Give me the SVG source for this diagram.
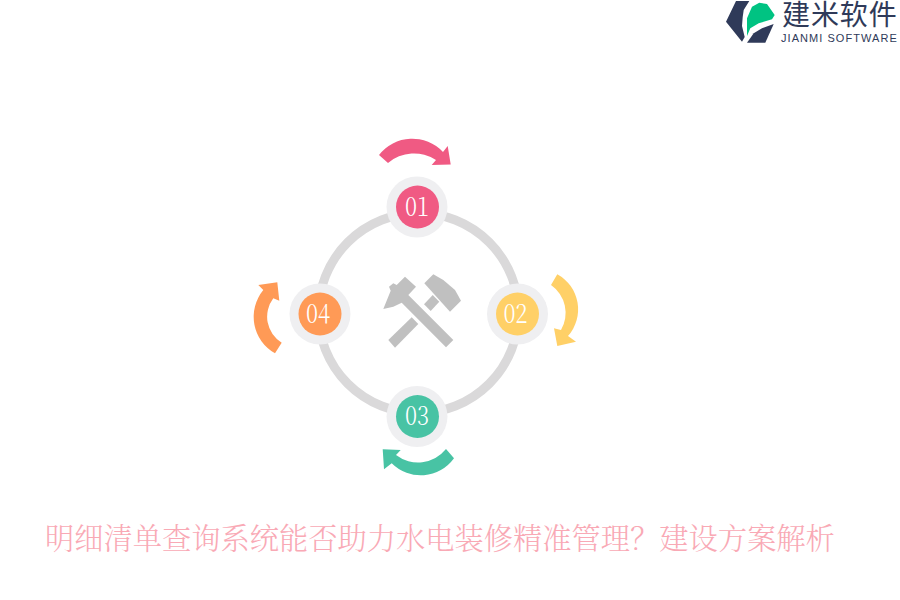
<svg xmlns="http://www.w3.org/2000/svg" width="900" height="600" viewBox="0 0 900 600">
<style>
.halo{fill:#efeff1}
.num{font-family:"AR PL UMing CN","Noto Serif CJK SC","Liberation Serif",serif;font-weight:300;font-size:27px;fill:#fff;text-anchor:middle}
.hammer{fill:#c0c0c0}
.dark{fill:#2f3a59}
</style>
<rect width="900" height="600" fill="#fff"/>
<g id="logo">
<path class="dark" d="M736 1H749.300L743.700 10L742.700 17L742 26L744.700 37L742 41.700L726 21.700Z"/>
<path fill="#00c382" d="M747 36L747 18.300L752 6.700L759.300 2.700L767 4L774.700 15L772 19.300L758.700 23.300L750.300 28.300Z"/>
<path class="dark" d="M747 42.700L753.700 33.300L762 28.300L773.700 24L765.300 42.700Z"/>
<text x="782" y="24.500" font-family="'Noto Sans CJK SC',sans-serif" font-size="28" letter-spacing="0.900" fill="#2f3a59">建米软件</text>
<text x="781" y="42" font-family="'Liberation Sans',sans-serif" font-size="11" letter-spacing="1.050" fill="#2f3a59">JIANMI SOFTWARE</text>
</g>
<g id="connectors">
<circle cx="418.500" cy="313" r="100" fill="none" stroke="#dad9da" stroke-width="9"/>
</g>
<g id="node-01">
<circle class="halo" cx="417" cy="207" r="30.500"/>
<circle cx="417.500" cy="207" r="21.500" fill="#f05a83"/>
<text class="num" x="417" y="216" textLength="24" lengthAdjust="spacingAndGlyphs">01</text>
<path fill="#f05a83" d="M379 155A42 42 0 0 1 443 152L447.700 146L450.700 164.500L431.700 165L436 160A40 40 0 0 0 388 163Z"/>
</g>
<g id="node-02">
<circle class="halo" cx="517.500" cy="314" r="30.500"/>
<circle cx="517.500" cy="314" r="21.500" fill="#ffd067"/>
<text class="num" x="515.500" y="323" textLength="24" lengthAdjust="spacingAndGlyphs">02</text>
<path fill="#ffd067" d="M557.300 274.300A40 40 0 0 1 568 336L576 341.700L557.300 346L554 328.300L561 330A34 34 0 0 0 551 285Z"/>
</g>
<g id="node-03">
<circle class="halo" cx="417" cy="416.500" r="30.500"/>
<circle cx="417.500" cy="416.500" r="21.500" fill="#48c3a4"/>
<text class="num" x="417" y="424.500" textLength="24" lengthAdjust="spacingAndGlyphs">03</text>
<path fill="#48c3a4" d="M454 458.300A41 41 0 0 1 391.700 463.300L384 469.300L382.700 449.300L400.700 450L396 455A36 36 0 0 0 446 449Z"/>
</g>
<g id="node-04">
<circle class="halo" cx="320" cy="314" r="30.500"/>
<circle cx="320" cy="314" r="21.500" fill="#ff9a56"/>
<text class="num" x="318" y="322.500" textLength="24" lengthAdjust="spacingAndGlyphs">04</text>
<path fill="#ff9a56" d="M275 353.300A42 42 0 0 1 263.300 290L258.300 285L277.300 282.300L279.300 300.700L273.300 298.300A30.500 30.500 0 0 0 281.700 342.700Z"/>
</g>
<g id="hammers">
<path class="hammer" d="M383.300 309L390.700 290.700L389 286.700L393.300 283.300L396.700 285L405 276.700L416 286.700L408.300 295L453.300 340L446 347.300L401.700 302.700L393.300 306.700Z"/>
<path class="hammer" d="M424.300 283.300L433.300 274.300L443.300 280L455 290L461 300.700L450 311.700Z"/>
<path class="hammer" d="M432.700 295L439.300 301.700L430.700 311L424 304.300Z"/>
<path class="hammer" d="M411.700 317.300L418.300 324L395 347.700L388.300 340Z"/>
</g>
<text id="title" x="45" y="549" font-family="'AR PL UMing CN','Noto Serif CJK SC','Liberation Serif',serif" font-weight="300" font-size="29.260" fill="#f9a9b5">明细清单查询系统能否助力水电装修精准管理&#xFF1F;建设方案解析</text>
</svg>
